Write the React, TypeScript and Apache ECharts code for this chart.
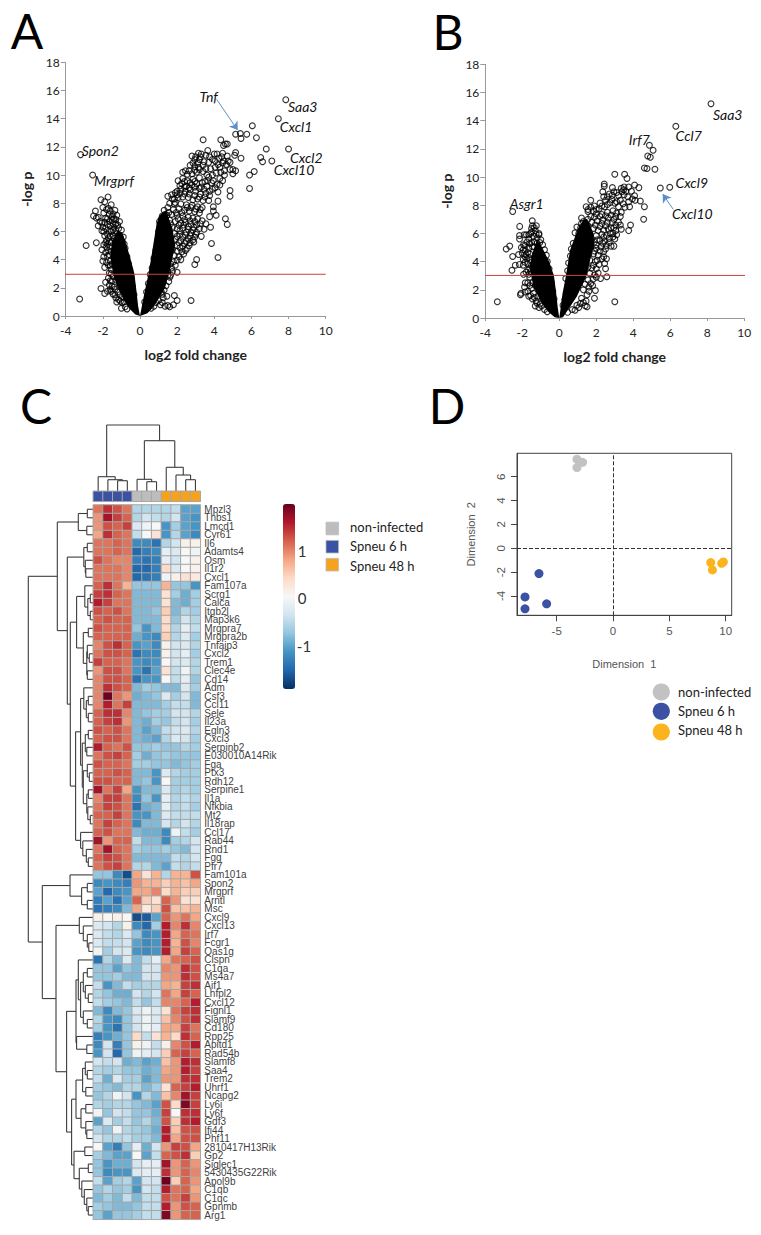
import React, { useEffect, useRef } from "react";
import * as echarts from "echarts";

// Panel A: circles. The fully overplotted, solid-black core of each arm of the V
// could not be read point by point, so it is drawn as the read outline below instead of as single circles.
const volcanoALeft = [[-3.2,11.45],[-2.55,10],[-3.25,1.2],[-2.9,5],[-2.35,5.2],[-1.72,8.45],[-2.1,8.25],[-1.9,8.1],[-1.55,7.9],[-2,7.7],[-2.4,7.45],[-2.5,7.1],[-2.35,6.95],[-1.8,7.55],[-1.35,7.5],[-1.25,7.15],[-2.25,6.4],[-2.05,6.05],[-1.9,6.65],[-1.1,6.7],[-1,6.1],[-1.65,7.2],[-1.75,6.9],[-1.5,6.8],[-1.6,6.4],[-1.4,6.3],[-1.2,6.45],[-1.85,6.2],[-2.15,6.7],[-2.05,6.6],[-2.25,7],[-1.95,7.3],[-1.7,7.65],[-1.45,7.25],[-1.3,6.85],[-1.55,6],[-1.75,5.8],[-1.45,5.7],[-1.25,5.85],[-1.05,5.55],[-.95,5.3],[-.9,5.6],[-.85,5.1],[-.8,4.8],[-1.65,5.3],[-1.9,5.7],[-1.75,5.1],[-1.55,5.2],[-1.95,5.05],[-2.05,4.7],[-1.85,4.5],[-1.95,4.2],[-1.75,4.25],[-1.55,4.6],[-2,3.9],[-1.9,3.45],[-1.8,3.8],[-1.6,3.9],[-1.55,3.3],[-1.5,3.7],[-.7,4.2],[-.62,3.7],[-.55,3.3],[-1.85,2.4],[-2.1,1.95],[-1.5,2.1],[-1.9,1.6],[-1.75,1.75],[-1.2,1.7],[-1.3,1.3],[-1,.55],[-1.5,2.5],[-1.4,2.05],[-1.1,2.3],[-.85,1],[-.8,.65],[-1.65,2.2],[-1.15,1.15],[-1.25,1],[-1.45,2.8],[-1.35,1.9],[-1.1,1.5],[-.95,1.35],[-1.55,3],[-.48,2.7],[-.4,2.1],[-.32,1.5],[-1.15,6.2],[-1.3,6.05],[-1.45,6.1],[-1.65,6.05],[-1.3,6.55],[-1.45,6.55],[-1.65,6.7],[-1.85,6.95],[-1.6,7.45],[-1.5,7.05],[-1.4,6.9],[-1.75,6.5],[-1.95,6],[-2,6.3],[-1.7,5.55],[-1.8,5.35],[-1.6,5.65],[-1.4,5.5],[-1.6,4.9],[-1.7,4.65],[-1.8,4.9],[-1.85,5.2],[-1.65,4.35],[-1.7,3.6],[-1.6,3.6],[-1.65,3.05],[-1.7,2.7],[-1.6,2.5],[-1.55,1.75],[-1.45,1.55],[-1.35,1.5],[-1.6,1.9],[-1.3,2.55],[-1.2,2.7],[-1.05,1.05],[-.95,.95],[-.7,.5]];
const volcanoARight = [[7.85,15.35],[7.45,14],[6.05,13.5],[5.75,12.9],[6.27,12.65],[5.4,12.95],[5.44,12.6],[5.15,12.9],[6.8,11.85],[8,11.85],[6.5,11.25],[6.6,10.95],[7.1,11],[6.15,10.25],[5.9,10],[5.9,9.05],[5.44,11.2],[5.15,11.6],[5.1,11.4],[5.15,10.3],[5,10.4],[5,10.1],[4.85,10.9],[4.85,8.9],[4.85,8.5],[4.2,8.8],[4.2,8.15],[3.95,7.75],[3.95,7.45],[4.1,7.15],[3.75,7.05],[4.6,6.9],[4.7,6.5],[3.8,6.3],[3.45,6.15],[3.55,6.55],[3.3,5.65],[3.85,5.15],[4.2,4.15],[3.05,4],[2.95,3.65],[2.9,5.25],[2,3.1],[1.6,2.75],[2.75,1.1],[1.85,1.45],[2,1.1],[1.8,.8],[3.4,12.5],[4.35,12.5],[4.6,12.2],[4.7,12.2],[4.5,12.1],[3.15,11.55],[3.3,11.5],[3.65,11.75],[4,11.5],[4.15,11.5],[4.4,11.3],[4.45,11.55],[4.7,11.35],[2.8,11.35],[3,11.3],[3.2,11.1],[3.55,11.4],[2.7,10.7],[2.95,10.6],[3.15,10.55],[3.4,10.7],[3.7,10.9],[4.2,10.75],[4.3,10.55],[4.65,10.75],[4.55,10.3],[4.35,10.2],[4.85,10.4],[2.45,10.3],[2.3,10.2],[2.55,10.05],[2.8,10.1],[3.05,10.2],[3.4,10.25],[3.6,10],[3.9,10],[4.1,10.15],[2.05,9.6],[2.3,9.75],[2.55,9.6],[2.85,9.7],[3.2,9.8],[3.5,9.55],[3.85,9.45],[4.15,9.35],[4.45,9.6],[2.25,9.4],[2.5,9.2],[2.8,9.3],[3.05,9.4],[3.3,9.15],[3.6,9.2],[3.9,9],[1.5,8.5],[1.7,8.6],[2,8.85],[2.2,9],[2.45,8.85],[2.7,8.95],[3,8.85],[3.25,8.65],[3.55,8.7],[3.75,8.55],[1.75,8.3],[2.05,8.4],[2.3,8.45],[2.6,8.4],[2.85,8.25],[3.1,8.3],[3.4,8.2],[1.6,8],[1.9,8.05],[2.2,7.95],[2.5,7.9],[2.8,7.85],[3.1,7.75],[3.35,7.7],[1.3,7.5],[1.5,7.7],[1.8,7.55],[2.1,7.6],[2.4,7.5],[2.65,7.45],[2.95,7.4],[3.2,7.3],[1.2,7.1],[1.45,7.15],[1.7,7.2],[2,7.15],[2.3,7.1],[2.6,7],[2.85,6.95],[3.1,6.9],[3.35,6.75],[1.05,6.7],[1.3,6.75],[1.6,6.8],[1.9,6.7],[2.2,6.6],[2.45,6.65],[2.75,6.5],[3.05,6.45],[3.2,6.2],[1.15,6.35],[1.45,6.35],[1.75,6.3],[2,6.2],[2.3,6.25],[2.6,6.15],[2.85,6.1],[3.05,5.95],[1,6],[1.55,5.9],[1.85,5.85],[2.15,5.8],[2.45,5.75],[2.7,5.7],[2.95,5.6],[1.6,5.5],[1.9,5.45],[2.2,5.35],[2.5,5.3],[2.7,5.2],[1.7,5.1],[2,5],[2.3,4.95],[2.55,4.8],[1.75,4.7],[2,4.6],[2.25,4.55],[1.6,4.4],[1.85,4.3],[2.1,4.2],[1.55,4],[1.8,3.85],[1.5,3.55],[1.7,3.4],[1.5,3.15],[1.55,2.45],[1.4,2.15],[1.3,1.85],[1.2,1.55],[1.15,1.7],[1.25,1.3],[1,1.1],[.85,.95],[1.1,.8],[1.35,.7],[1.5,.75],[1.6,.65],[1.2,.95],[.75,.7],[.6,.55],[.85,4.65],[.75,4.1],[.95,5.3],[.65,3.4],[.55,2.95],[.45,2.3],[.35,1.7],[.25,1],[1.15,6.9],[1.35,7.2],[1.55,7.35],[1.85,7.95],[1.95,7.35],[2.25,7.35],[2.55,7.7],[2.75,7.7],[3,7.6],[3.25,7.55],[2.05,6.9],[2.4,6.85],[2.7,6.75],[2.95,6.7],[3.25,6.55],[1.65,6.55],[2.1,6.45],[2.35,6.45],[2.6,6.35],[2.9,6.3],[2.15,6.05],[2.5,5.95],[2.75,5.9],[3,5.8],[2,5.65],[2.3,5.6],[2.6,5.5],[2.85,5.4],[2.1,5.2],[2.4,5.15],[2.65,5],[2.15,4.85],[2.45,4.65],[2.35,4.4],[2.2,4],[2,3.95],[1.9,3.6],[1.65,3.7],[1.75,3.15],[1.65,2.9],[1.5,2.9],[1.45,1.4],[2.15,8.7],[2.4,8.65],[2.65,8.65],[2.95,8.55],[3.2,8.45],[3.5,8.45],[3.7,8.2],[2,8.6],[1.85,8.3],[1.9,8.75],[2.15,9.25],[2.4,9.15],[2.65,9.1],[2.95,9.15],[3.2,9.05],[3.45,9],[3.75,8.85],[4.05,9.1],[4.3,9.3],[2.4,9.55],[2.7,9.45],[2.95,9.55],[3.35,9.45],[3.65,9.6],[3.7,9.85],[3.95,9.6],[4.3,9.75],[4.55,10],[2.65,10.3],[2.95,10.35],[3.2,10.4],[3.55,10.45],[3.8,10.45],[4.05,10.55],[4.45,10.85],[2.85,10.85],[3.1,10.85],[3.45,10.95],[3.9,11.1],[4.05,11],[4.25,11.2],[4.5,11],[4.75,11],[3.25,11.3],[3.75,11.3],[2.95,11.1]];
const coreALeft = [[0,0],[-.1,.7],[-.2,1.9],[-.3,3],[-.5,4],[-.72,5],[-.95,5.9],[-1.2,6.1],[-1.5,5.3],[-1.6,4.2],[-1.45,3],[-1.2,2],[-.9,1.2],[-.55,.5],[-.25,.1]];
const coreARight = [[0,0],[.1,.7],[.25,1.7],[.46,3],[.65,4.5],[.9,6.6],[1.1,7.2],[1.4,7.5],[1.75,6.2],[1.9,5],[1.72,4],[1.55,3],[1.35,2],[1,1.2],[.7,.6],[.4,.2]];
const redLineA = [[-4.1,2.96],[10,2.96]];
const arrowA = [[4.13,15.37],[5.26,13.19]];

// Panel B: same treatment as panel A.
const volcanoBLeft = [[-2.52,7.55],[-1.46,6.9],[-2.14,6.5],[-1.24,6.55],[-3.35,1.15],[-2.87,4.9],[-2.68,5.1],[-2.52,4.37],[-2.2,4.5],[-2.38,3.75],[-2.56,3.38],[-2.16,3.8],[-2.15,5.6],[-2.15,5.85],[-1.93,5.2],[-1.78,5.9],[-1.9,5.9],[-1.45,6.55],[-1.5,6.35],[-1.3,6.2],[-1.1,6],[-1.55,6],[-1.4,5.8],[-1.2,5.7],[-1,5.55],[-1.65,5.6],[-1.75,5.4],[-1.5,5.35],[-2.05,5],[-1.85,4.8],[-1.65,4.95],[-1.45,5.05],[-.9,5.2],[-.8,4.85],[-2,4.6],[-1.8,4.5],[-1.6,4.55],[-1.95,4.15],[-1.75,4.2],[-1.55,4.1],[-1.95,3.75],[-1.7,3.85],[-1.5,3.75],[-1.93,3.1],[-1.7,3.4],[-1.55,3.3],[-1.84,2.5],[-1.6,2.9],[-2.1,1.65],[-2.07,1.75],[-1.88,2.2],[-1.85,1.85],[-1.5,2.1],[-1.55,1.6],[-1.45,1.35],[-1.4,1.75],[-1.3,.85],[-1.25,1.2],[-1.05,1],[-1.1,.75],[-.65,.45],[-.9,1.4],[-1.15,1.55],[-1.3,2.3],[-.7,4.45],[-.65,4],[-.55,3.5],[-.5,3],[-.42,2.5],[-.35,1.9],[-.28,1.35],[-1.35,6.4],[-1.5,6.1],[-1.65,5.9],[-1.35,5.4],[-1.6,5.3],[-1.85,5.15],[-1.95,4.85],[-1.7,4.65],[-1.85,4.35],[-1.65,4.3],[-1.85,3.95],[-1.6,3.55],[-1.8,3.25],[-1.65,3.1],[-1.7,2.5],[-1.6,2.3],[-1.45,2.5],[-1.7,1.9],[-1.65,1.55],[-1.35,1.45],[-1.2,1.05],[-.95,.85],[-.8,.6],[-1.1,5.9],[-1.25,5.95],[-1.2,5.3],[-1.35,5.05],[-1.05,5.35]];
const volcanoBRight = [[8.2,15.2],[6.3,13.6],[4.87,12.25],[5.07,11.9],[4.78,11.5],[4.92,11.4],[4.6,10.65],[4.74,10.6],[5.17,10.55],[5.97,9.27],[5.46,9.22],[3,10.2],[3.53,10.2],[3.66,9.9],[4.07,9.43],[4.3,9.25],[2.43,9.5],[2.43,9.35],[2.87,9.25],[3.5,9.3],[3.75,9.3],[3.48,9.1],[3.38,8.95],[2.35,8.95],[4.07,8.68],[4.38,8.3],[4.6,7.9],[4.56,7],[3.85,6.6],[3.75,6.2],[2.95,5.1],[1.7,8.35],[3,1.15],[1.95,1.95],[1.9,1.4],[1.4,.87],[1.5,.8],[1.13,1.03],[2.57,2.93],[2.23,2.8],[1.83,2.75],[2.5,3.5],[2.45,3.87],[2.4,4.35],[2.55,4.2],[1.45,7.9],[1.9,7.95],[2.2,8.15],[2.5,8.35],[2.7,8.8],[2.95,8.95],[3.2,8.7],[3.5,8.75],[3.7,8.6],[3.95,8.45],[4.1,8.35],[1.2,7.1],[1.55,7.55],[1.85,7.6],[2.15,7.75],[2.45,7.9],[2.75,8.2],[3,8.15],[3.3,8.35],[3.55,7.85],[3.2,7.9],[1.3,6.85],[1.7,7.2],[2,7.4],[2.3,7.35],[2.6,7.5],[2.9,7.6],[3.1,7.45],[3.35,7.5],[.95,6.45],[1.15,6.4],[1.4,6.65],[1.75,6.8],[2.05,6.9],[2.35,6.95],[2.65,7.1],[2.95,7],[3.2,6.8],[3.3,6.6],[.85,6.05],[1.05,6],[1.55,6.25],[1.85,6.35],[2.2,6.5],[2.5,6.55],[2.8,6.4],[3.05,6.2],[2.75,6],[1.65,5.85],[2,5.85],[2.3,5.95],[2.55,5.85],[2.9,5.75],[1.6,5.45],[1.9,5.4],[2.2,5.5],[2.45,5.45],[2.7,5.35],[1.7,5],[2,4.95],[2.25,5.05],[2.5,4.9],[.65,4.9],[.75,5.3],[.6,4.4],[.5,3.9],[.45,3.35],[.35,2.8],[1.6,4.5],[1.85,4.55],[2.1,4.45],[1.65,4.1],[1.95,4],[1.55,3.6],[1.75,3.55],[2,3.5],[1.65,3.15],[1.9,3.05],[1.55,2.7],[1.7,2.45],[1.4,2.4],[1.3,2],[1.5,1.65],[1.2,1.4],[.95,.9],[.7,.6],[.45,.4],[.3,1.3],[.2,.9],[1.55,7.7],[1.7,7.85],[2,7.7],[2.3,7.95],[2.6,8.05],[2.85,8.4],[3.1,8.25],[3.45,8.1],[3.75,8.25],[3.8,7.9],[2.4,8.6],[2.6,8.6],[2.85,8.7],[3.1,8.9],[3.35,9.2],[3.6,9],[3.9,9],[3.3,7.2],[3.05,7.2],[2.8,7.3],[2.5,7.25],[2.2,7.2],[1.9,7.15],[1.55,7],[1.2,6.7],[1.55,6.55],[1.95,6.6],[2.3,6.7],[2.6,6.8],[2.85,6.75],[3.05,6.6],[3.35,6.3],[2.1,6.2],[2.4,6.25],[2.65,6.3],[2.95,6.4],[3.1,5.9],[2.9,6],[2.4,5.75],[2.7,5.65],[3,5.6],[2.05,5.55],[2.35,5.3],[2.55,5.15],[2.8,5.1],[2,5.2],[1.9,4.75],[2.2,4.75],[2.4,4.7],[2.3,4.2],[2.05,4.1],[2.15,3.8],[1.85,3.75],[2.1,3.2],[2,2.9],[1.8,2.3],[1.6,2.2],[1.6,1.9],[1.45,1.2],[1.3,1.1],[1.05,.75],[.85,.55]];
const coreBLeft = [[0,0],[-.08,.7],[-.18,1.9],[-.29,3],[-.55,4],[-.85,4.8],[-1.05,5.3],[-1.22,5.5],[-1.45,4.6],[-1.59,3.65],[-1.5,2.9],[-1.4,2.2],[-.95,1.04],[-.6,.45],[-.25,.05]];
const coreBRight = [[0,0],[.07,.7],[.17,1.7],[.36,3],[.58,4.8],[1.03,6.4],[1.3,6.95],[1.5,7.05],[1.85,6],[1.9,5.2],[1.75,4.6],[1.48,3],[.94,1.5],[.4,.45],[.2,.05]];
const redLineB = [[-4,3.02],[10.1,3.02]];
const arrowB = [[6.16,7.71],[5.59,8.79]];

// Panel C
const genes = ["Mpzl3","Thbs1","Lmcd1","Cyr61","Il6","Adamts4","Osm","Il1r2","Cxcl1","Fam107a","Scrg1","Calca","Itgb2l","Map3k6","Mrgpra7","Mrgpra2b","Tnfaip3","Cxcl2","Trem1","Clec4e","Cd14","Adm","Csf3","Ccl11","Sele","Il23a","Egln3","Cxcl3","Serpinb2","E030010A14Rik","Fga","Ptx3","Rdh12","Serpine1","Il1a","Nfkbia","Mt2","Il18rap","Ccl17","Rab44","Rnd1","Fgg","Pfr7","Fam101a","Spon2","Mrgprf","Arntl","Msc","Cxcl9","Cxcl13","Irf7","Fcgr1","Oas1g","Clspn","C1qa","Ms4a7","Aif1","Lhfpl2","Cxcl12","Fignl1","Slamf9","Cd180","Rpp25","Apitd1","Rad54b","Slamf8","Saa4","Trem2","Uhrf1","Ncapg2","Ly6i","Ly6f","Gdf3","Ifi44","Phf11","2810417H13Rik","Gp2","Siglec1","5430435G22Rik","Apol9b","C1qb","C1qc","Gpnmb","Arg1"];
const heatValues = [
[1.1,1.5,1.3,1.1,-.6,-.6,-.6,-.6,-.5,-1.1,-1.1],[.9,1.7,1.4,1.2,-.6,-.4,-.5,-.6,-.4,-1.1,-1.2],[.9,1.3,1.2,1.4,-.3,-.1,0,-1.2,-.7,-1.1,-1.2],[.8,1.5,1.2,1.1,-.5,0,.3,-1.2,-.6,-1.1,-1.3],
[1.1,1.1,1.2,1.1,-1.3,-1.3,-1.5,-.6,-.4,.1,.1],[1.1,1.1,1.2,1.1,-1.6,-1.4,-1.3,-.2,-.3,0,-.1],[1.3,1.1,1,1,-1.4,-1.5,-1.4,-.2,-.4,0,.1],[1.1,1.1,1.1,1,-1.6,-1.6,-1.4,.4,-.3,0,.1],[1.1,1.1,1.1,1,-1.6,-1.5,-1.4,-.1,.1,.3,.2],
[1.2,1.5,1.1,.7,-.8,-.8,-.8,.7,-.8,-.8,-1.2],[1.4,1.5,1.2,1.1,-.9,-.9,-.9,.3,-.7,-1,-.7],[1.6,1.4,1.1,1.1,-.9,-.9,-.9,.3,-.9,-1,-.7],[1.3,1.2,1.3,1.1,-.9,-.9,-.8,.5,-.9,-.6,-.7],[1.2,1.3,1.2,1.2,-.9,-.9,-.9,.4,-.8,-.4,-.6],[1.3,1.2,1.2,1.2,-.8,-1.2,-.9,.4,-.6,-.2,-.5],[1.2,1.2,1.2,1.2,-1,-1.2,-1.3,.5,-.6,-.3,-.7],[1,1.3,1.5,1.2,-1.2,-1.1,-1.3,.1,-.4,-.3,-.6],[1.1,1.3,1.3,1.2,-1.5,-1.3,-1.3,.1,-.4,-.2,-.7],[1.4,1.2,1.2,1.1,-1.2,-1.3,-1.2,0,-.4,-.3,-.6],[.9,1.3,1.3,1.1,-1.2,-1.5,-1.1,.3,-.5,-.1,-.6],[1,1.3,1.3,1.2,-1.5,-1.2,-1.2,0,-.5,-.2,-.8],
[1,1.5,1.3,1.2,-.9,-.7,-.8,-.9,-.9,-.3,-.7],[1,2,1.1,.9,-1,-.9,-.8,-.3,-.7,-.4,-.9],[1,1.6,1.1,1.4,-.9,-.9,-.9,-.7,-.5,-.5,-.9],[1.2,1.5,1.5,1,-.9,-.8,-.7,-.7,-.4,-.4,-.6],[1.2,1.4,1.5,.9,-.9,-1,-.7,-.8,-.5,-.4,-.7],[1.3,1.2,1.3,1.1,-.9,-1.1,-.9,-.5,-.4,-.3,-.6],[1.2,1.3,1.3,1.1,-.9,-1,-1.1,-.6,-.3,-.4,-.7],[1.6,1.2,1.1,1.3,-.8,-.8,-.7,-.8,-.8,-.6,-.7],[1.1,1.3,1.4,1.2,-.7,-1,-.8,-.7,-.8,-.8,-.8],[1.3,1.2,1.2,1.1,-.7,-.7,-.8,-.8,-.9,-.8,-.7],[1.2,1.2,1.3,1.2,-.9,-.9,-1.2,-.3,-.6,-.7,-.7],[1.3,1.3,1.2,1.2,-.9,-.8,-1.2,0,-.7,-.7,-.7],[1.7,1.1,1.4,.8,-1.2,-.9,-.9,-.3,-.7,-.6,-.7],[1,1.4,1.4,1.1,-1.3,-.8,-1.2,-.2,-.6,-.5,-.6],[1.1,1.4,1.3,1.1,-1.5,-1,-.9,-.2,-.6,-.5,-.7],[1.2,1.2,1.4,1.1,-1.2,-1.2,-.9,-.3,-.5,-.5,-.5],[1.1,1.4,1.2,1.1,-1.3,-.9,-.9,-.4,-.6,-.4,-.6],[1.2,1.3,1.1,1.1,-.9,-1,-1,-1.3,-.1,-.5,-.7],[1.7,.9,1.2,1.2,-.5,-.9,-.9,-1.3,-.7,-.6,-.4],[1.1,1.7,1.2,1.1,-.7,-.8,-.8,-.7,-.8,-.9,-.4],[1.2,1.4,1.3,1.1,-.9,-.9,-.9,-.9,-.5,-.6,-.4],[1.1,1.3,1.4,1.1,-.6,-.6,-.9,-1.1,-.5,-.6,-.5],
[-.8,-.8,-1.3,-1.8,.8,.3,.7,-.6,.7,.7,1.3],[-1.3,-1.2,-1.3,-1.4,.9,.7,.7,.5,.7,.6,.8],[-1.1,-1.6,-1.3,-1.2,.8,.8,1,.4,.7,.5,.5],[-1.4,-1.1,-1.5,-1.1,1.2,.5,.3,1.2,.9,.3,.3],[-1.5,-1.4,-1.3,-.9,.8,.2,.5,1.3,.6,.6,.7],
[.1,0,.1,0,-1.8,-1.7,-1.1,1.2,.9,1.1,.8],[-.3,-.4,-.6,.1,-1.3,-1.6,-.7,1.6,1,1.5,1],[-.3,-.5,-.6,-.3,-.8,-1.3,-1.2,1.6,.8,1.2,1.1],[-.3,-.5,-.5,-.4,-1.1,-1.3,-1.2,1.6,.7,1.3,1],[-.1,-.7,-.4,-.3,-1.2,-1.3,-1.2,1.6,.8,1.4,1.2],
[-1.5,-.6,-.9,-.3,-.9,-.5,-.2,.8,1.1,1.2,1.3],[-.8,-.8,-1.1,-.8,-.9,-.4,-.4,1,.9,1.5,1.3],[-.8,-.8,-.7,-.9,-.9,-.4,-.4,.9,.9,1.5,1.3],[-.5,-1.2,-.9,-.5,-.7,-.6,-.6,.8,.7,1.4,1.5],[-.6,-.8,-1,-1,-.4,-.6,-.4,1.1,.8,1.4,1.2],[-.5,-.7,-.8,-.9,-.5,-.8,-.5,1,1,1.2,1.6],[-.9,-1.3,-.9,-.8,-.3,-.1,-.3,.3,1.1,1.4,1.5],[-.6,-1.2,-1.3,-.8,-.4,-.1,-.3,.6,1,1.3,1.5],[-.7,-1.2,-1.5,-.8,-.4,-.1,-.2,.8,.8,1.4,1.1],[-1.4,-1.2,-1,-.8,.4,-.5,.3,.7,.4,1.5,1.2],[-1.3,-.4,-1.4,-.8,.1,-.1,-.5,.1,1,1.3,1.6],[-1.2,-.4,-1.6,-.8,-.1,-.2,-.4,.5,1.2,1.4,1.2],
[-.4,-.5,-.4,-1,-.9,-1.1,-1,.6,.9,1.6,1.5],[-.6,-.7,-.6,-.8,-.8,-1,-.9,.8,.9,1.6,1.4],[-.5,-1,-.3,-.7,-.7,-1.1,-.9,.9,.9,1.5,1.5],[-.7,-.8,-.9,-.6,-.6,-.9,-.7,.3,1.2,1.4,1.6],[-.8,-.6,-.1,-.4,-1.2,-.6,-.9,.6,1,1.7,1.4],[-.6,-.7,-.6,-.6,-.8,-.9,-1.1,1.3,.4,1.9,1.4],[-.1,-.8,-.4,-.5,-.8,-.8,-1,1.4,0,1.5,1.5],[-1.1,-.3,-.7,-.5,-.8,-.6,-.9,1.3,.5,1.5,1.6],[-.6,-.8,-.1,-.6,-.7,-.8,-1,1.6,.6,1.3,1.3],[-.4,-.6,-.6,-.5,-.7,-.7,-.9,1.6,.8,1.3,1.3],
[0,-1.1,-1.4,-.8,-.2,-1,-.4,.9,1.4,1.3,.8],[-.7,-.9,-1.1,-1.1,0,-1.1,-.5,1.2,1.3,1.5,.5],[-.8,-1.2,-1,-1,-.4,-.2,-.2,1.7,.9,1.2,.9],[-.8,-1.3,-1.2,-1.2,-.3,-.2,-.2,1.5,.9,1.2,1],[-.5,-1.1,-.7,-.6,-1.1,-.4,-.4,2,.5,1.2,.9],[-.8,-.6,-.8,-.7,-1.2,-.4,-.5,1.6,1.1,1.2,.8],[-.9,-.7,-.9,-.5,-.9,-.5,-.5,1.3,1.1,1.4,.9],[-.7,-.8,-.9,-.9,-.8,-.5,-.5,1.6,.9,1.3,1.2],[-.8,-1.1,-.8,-.8,-.7,-.5,-.5,1.9,.9,1.2,1.2]];
const sampleGroups = [1,1,1,1,0,0,0,2,2,2,2];
const groupNames = ["non-infected","Spneu 6 h","Spneu 48 h"];
const groupColorsC = ["#bdbdbd","#3b51a3","#f5a21f"];
const groupColorsD = ["#c2c2c2","#3b51a3","#fbb41e"];
const rdBu = ["#053061","#2166ac","#4393c3","#92c5de","#d1e5f0","#f7f7f7","#fddbc7","#f4a582","#d6604d","#b2182b","#67001f"];

// Dendrograms: [merge height, left child, right child]; a number is a leaf (column or row index).
const columnTree = [66,[14.3,0,[11.3,1,[10.3,2,3]]],[50.3,[11.7,4,[9.3,5,6]],[23.7,7,[16,8,[11.3,9,10]]]]];
const rowsTop = [15,[6,0,1],[6.5,2,3]];
const rowsIl6 = [9.5,[6,4,5,],[8,6,[7.5,7,8]]];
const rowsFam = [16.7,[8.5,9,[5.5,[3,10,11],[3,12,13]]],[10,[5,14,15],[6.5,[6,16,[4,17,18]],[6,19,20]]]];
const rowsAdm = [9.5,21,[7,[5,22,23],[5,24,25]]];
const rowsEgln = [11,[8,[5,26,27],[6.5,28,29]],[10,[6,30,[4,31,32]],[6.5,[5,33,34],[5.5,35,[3,36,37]]]]];
const rowsCcl = [12.7,38,[10.5,39,[7,40,[5,41,42]]]];
const rowsMiddle = [23,rowsFam,[17.7,[12.7,rowsAdm,rowsEgln],rowsCcl]];
const rowsUpper = [36,rowsTop,[26,rowsIl6,rowsMiddle]];
const rowsFam101 = [23.3,43,[11.7,[6,44,45],[6,46,47]]];
const rowsCxcl9 = [14,48,[10,49,[6,50,[4.5,51,52]]]];
const rowsClspn = [15,53,[12.7,[10,[6,54,55],[8,56,[5,57,58]]],[10,59,[6,60,61]]]];
const rowsRpp = [16.7,62,[6.5,63,64]];
const rowsSlamf = [10.7,[8,65,[6,66,67]],[7.5,68,69]];
const rowsLy = [12.3,[7.5,70,71],[7.5,72,[6.5,73,74]]];
const rowsSiglec = [14,[5,77,78],[11.5,79,[9,80,[6.5,81,[5,82,83]]]]];
const rowsLower = [26.7,[17.3,rowsClspn,rowsRpp],[21.7,[17.3,rowsSlamf,rowsLy],[19.3,[8.5,75,76],rowsSiglec]]];
const rowTree = [65,rowsUpper,[51,rowsFam101,[37.3,rowsCxcl9,rowsLower]]];

// Panel D
const mdsGrey = [[-3.2,7.46],[-2.7,7.2],[-3.2,6.76]];
const mdsBlue = [[-6.57,-2.12],[-7.81,-4.08],[-7.81,-5.08],[-5.89,-4.66]];
const mdsOrange = [[8.67,-1.2],[8.82,-1.82],[9.64,-1.26],[9.79,-1.15]];
const mdsXTicks = [-5,0,5,10];
const mdsYTicks = [-4,-2,0,2,4,6];

type Node = number | any[];
function treeSegments(tree: Node, horizontal: boolean) {
  const segs: number[][] = [];
  const walk = (n: Node): [number, number] => {
    if (typeof n === "number") return [n + 0.5, 0];
    const [h, a, b] = n as any[];
    const [pa, ha] = walk(a);
    const [pb, hb] = walk(b);
    if (horizontal) {
      segs.push([pa, ha, pa, h], [pb, hb, pb, h], [pa, h, pb, h]);
    } else {
      segs.push([ha, pa, h, pa], [hb, pb, h, pb], [h, pa, h, pb]);
    }
    return [(pa + pb) / 2, h];
  };
  walk(tree);
  return segs;
}

const LATO = "Lato";
const ARIAL = "Liberation Sans";

function volcanoAxes(gridIndex: number) {
  const tick = { fontFamily: LATO, fontSize: 12, color: "#222" };
  const nameStyle = { fontFamily: LATO, fontSize: 14, fontWeight: "bold" as const, color: "#222" };
  return {
    x: {
      type: "value", gridIndex, min: -4, max: 10, interval: 2, name: "log2 fold change", nameLocation: "middle", nameGap: 31,
      nameTextStyle: nameStyle, splitLine: { show: false },
      axisLine: { onZero: false, lineStyle: { color: "#999" } }, axisTick: { length: 3, lineStyle: { color: "#999" } },
      axisLabel: { ...tick, margin: 8, showMaxLabel: true, showMinLabel: true },
    },
    y: {
      type: "value", gridIndex, min: 0, max: 18, interval: 2, name: "-log p", nameLocation: "middle", nameGap: 32,
      nameTextStyle: nameStyle, splitLine: { show: false },
      axisLine: { onZero: false, show: true, lineStyle: { color: "#999" } }, axisTick: { show: true, length: 5, lineStyle: { color: "#999" } },
      axisLabel: { ...tick, margin: 6 },
    },
  };
}

function coreSeries(poly: number[][], idx: number) {
  return {
    type: "custom", xAxisIndex: idx, yAxisIndex: idx, silent: true, data: [poly[0]], clip: true, encode: { x: 0, y: 1 },
    renderItem: (_: any, api: any) => ({
      type: "polygon",
      shape: { points: poly.map((p) => api.coord(p)) },
      style: { fill: "#000" },
    }),
  };
}
function circles(data: number[][], idx: number) {
  return {
    type: "scatter", xAxisIndex: idx, yAxisIndex: idx, data, symbol: "circle", symbolSize: 5.8, clip: false,
    itemStyle: { color: "rgba(255,255,255,0)", borderColor: "#000", borderWidth: 1.15 },
  };
}
function redLine(data: number[][], arrow: number[][], idx: number) {
  return {
    type: "line", xAxisIndex: idx, yAxisIndex: idx, data, symbol: "none", clip: false,
    lineStyle: { color: "#c9423a", width: 1 },
    markLine: {
      silent: true, symbol: ["none", "arrow"], symbolSize: 8, label: { show: false },
      lineStyle: { color: "#5b8fc9", width: 1, type: "solid" },
      data: [[{ coord: arrow[0] }, { coord: arrow[1] }]],
    },
  };
}
function segmentSeries(segs: number[][], idx: number) {
  return {
    type: "custom", xAxisIndex: idx, yAxisIndex: idx, silent: true, data: segs, clip: false, encode: { x: [0, 2], y: [1, 3] },
    renderItem: (_: any, api: any) => {
      const a = api.coord([api.value(0), api.value(1)]);
      const b = api.coord([api.value(2), api.value(3)]);
      return { type: "line", shape: { x1: a[0], y1: a[1], x2: b[0], y2: b[1] }, style: { stroke: "#3c3c3c", lineWidth: 1.1 } };
    },
  };
}
const label = (text: string, x: number, y: number, font: any) => ({
  type: "text", x, y, silent: true,
  style: { text, textAlign: "center", textVerticalAlign: "middle", fill: "#111", ...font },
});
const italic = { fontFamily: LATO, fontStyle: "italic", fontSize: 14 };
const big = { fontFamily: LATO, fontSize: 48, fill: "#000" };
const legendText = { fontFamily: LATO, fontSize: 13, fill: "#222", textAlign: "left" };

export default function App() {
  const ref = useRef<HTMLDivElement>(null);
  useEffect(() => {
    const chart = echarts.init(ref.current!, undefined, { renderer: "svg" });
    const a = volcanoAxes(0);
    const b = volcanoAxes(1);
    const heatData: number[][] = [];
    heatValues.forEach((row, r) => row.forEach((v, c) => heatData.push([c, r, v])));
    const columnNames = sampleGroups.map((_, i) => String(i));
    const hiddenValue = (gridIndex: number, min: number, max: number, inverse = false) => ({
      type: "value", gridIndex, min, max, inverse, show: false, splitLine: { show: false },
    });
    const mdsAxisStyle = { lineStyle: { color: "#444" } };
    const option: any = {
      animation: false,
      backgroundColor: "#fff",
      grid: [
        { left: 65.7, top: 62.3, width: 260, height: 253.7 },
        { left: 485.3, top: 64.3, width: 259, height: 253.7 },
        { left: 517, top: 453.3, width: 214.7, height: 162, show: true, borderColor: "#444", borderWidth: 1, backgroundColor: "transparent" },
        { left: 93.3, top: 505, width: 107, height: 714.3 },
        { left: 93.3, top: 491.3, width: 107, height: 10 },
        { left: 93.3, top: 425, width: 107, height: 66 },
        { left: 28.3, top: 505, width: 65, height: 714.3 },
      ],
      xAxis: [
        a.x, b.x,
        {
          type: "value", gridIndex: 2, min: -8.52, max: 10.53, splitLine: { show: false },
          name: "Dimension  1", nameLocation: "middle", nameGap: 43, nameTextStyle: { fontFamily: ARIAL, fontSize: 11, color: "#555" },
          axisLine: { onZero: false, ...mdsAxisStyle },
          axisTick: { length: 6, customValues: mdsXTicks, ...mdsAxisStyle },
          axisLabel: { customValues: mdsXTicks, fontFamily: ARIAL, fontSize: 11.5, color: "#555", margin: 10 },
        },
        { type: "category", gridIndex: 3, data: columnNames, show: false },
        { type: "category", gridIndex: 4, data: columnNames, show: false },
        hiddenValue(5, 0, 11),
        hiddenValue(6, 0, 65, true),
      ],
      yAxis: [
        a.y, b.y,
        {
          type: "value", gridIndex: 2, min: -5.62, max: 7.96, splitLine: { show: false },
          name: "Dimension  2", nameLocation: "middle", nameGap: 41, nameTextStyle: { fontFamily: ARIAL, fontSize: 11, color: "#555" },
          axisLine: { onZero: false, show: true, ...mdsAxisStyle },
          axisTick: { show: true, length: 6, customValues: mdsYTicks, ...mdsAxisStyle },
          axisLabel: { customValues: mdsYTicks, rotate: 90, fontFamily: ARIAL, fontSize: 11.5, color: "#555", margin: 10 },
        },
        {
          type: "category", gridIndex: 3, data: genes, inverse: true, position: "right",
          axisLine: { show: false }, axisTick: { show: false },
          axisLabel: { interval: 0, fontFamily: ARIAL, fontSize: 10, color: "#3f3f3f", margin: 4 },
        },
        { type: "category", gridIndex: 4, data: ["group"], show: false },
        hiddenValue(5, 0, 66),
        hiddenValue(6, 0, 84, true),
      ],
      visualMap: [
        {
          type: "continuous", seriesIndex: 12, min: -2.03, max: 2.03, dimension: 2, calculable: false,
          left: 283, top: 504, itemWidth: 12, itemHeight: 185, padding: 0, text: ["", ""], hoverLink: false,
          inRange: { color: rdBu },
        },
        {
          type: "piecewise", show: false, seriesIndex: 13, dimension: 2,
          pieces: groupColorsC.map((color, value) => ({ value, color })),
        },
      ],
      series: [
        coreSeries(coreALeft, 0), coreSeries(coreARight, 0), circles(volcanoALeft, 0), circles(volcanoARight, 0), redLine(redLineA, arrowA, 0),
        coreSeries(coreBLeft, 1), coreSeries(coreBRight, 1), circles(volcanoBLeft, 1), circles(volcanoBRight, 1), redLine(redLineB, arrowB, 1),
        segmentSeries(treeSegments(columnTree, true), 5),
        segmentSeries(treeSegments(rowTree, false), 6),
        {
          type: "heatmap", xAxisIndex: 3, yAxisIndex: 3, data: heatData, silent: true,
          itemStyle: { borderColor: "#a6a6a6", borderWidth: 1 },
        },
        {
          type: "heatmap", xAxisIndex: 4, yAxisIndex: 4, silent: true,
          data: sampleGroups.map((g, i) => [i, 0, g]),
          itemStyle: { borderColor: "#a6a6a6", borderWidth: 1 },
        },
        ...[mdsGrey, mdsBlue, mdsOrange].map((data, i) => ({
          type: "scatter", xAxisIndex: 2, yAxisIndex: 2, data, symbolSize: 9, z: 3, itemStyle: { color: groupColorsD[i], opacity: 1 },
          ...(i === 0 ? {
            markLine: {
              silent: true, symbol: "none", label: { show: false }, animation: false,
              lineStyle: { color: "#333", type: "dashed", width: 1 },
              data: [{ xAxis: 0 }, { yAxis: 0 }],
            },
          } : {}),
        })),
      ],
      graphic: [
        label("A", 27, 30, big), label("B", 448, 31, big), label("C", 36, 405, big), label("D", 447, 405, big),
        label("Tnf", 208.7, 96.7, italic), label("Saa3", 302.7, 106.7, italic), label("Cxcl1", 296, 126, italic),
        label("Cxcl2", 306.3, 157.7, italic), label("Cxcl10", 294, 169.3, italic), label("Spon2", 100.3, 150, italic), label("Mrgprf", 114, 180, italic),
        label("Saa3", 727.7, 114, italic), label("Ccl7", 688.7, 135, italic), label("Irf7", 639.3, 139.3, italic),
        label("Cxcl9", 691.7, 182.3, italic), label("Cxcl10", 692.3, 213.7, italic), label("Asgr1", 526.7, 203.3, italic),
        label("1", 302, 551, { fontFamily: LATO, fontSize: 15, fill: "#333" }),
        label("0", 302, 597.7, { fontFamily: LATO, fontSize: 15, fill: "#333" }),
        label("-1", 304, 645.7, { fontFamily: LATO, fontSize: 15, fill: "#333" }),
        ...groupNames.flatMap((name, i) => {
          const ys = [528.5, 546.7, 564.7];
          return [
            { type: "rect", silent: true, shape: { x: 326, y: ys[i] - 6.3, width: 12.6, height: 12.6 }, style: { fill: groupColorsC[i], stroke: "#bbb", lineWidth: 0.8 } },
            label(name, 350, [527, 546, 566][i], legendText),
          ];
        }),
        ...groupNames.flatMap((name, i) => {
          const ys = [692, 711.3, 732];
          return [
            { type: "circle", silent: true, shape: { cx: 661.3, cy: ys[i], r: 8.6 }, style: { fill: groupColorsD[i] } },
            label(name, 678, [692, 711, 730][i], legendText),
          ];
        }),
      ],
    };
    chart.setOption(option);
    return () => chart.dispose();
  }, []);
  return <div ref={ref} style={{ position: "absolute", left: 0, top: 0, width: 761, height: 1235 }} />;
}
